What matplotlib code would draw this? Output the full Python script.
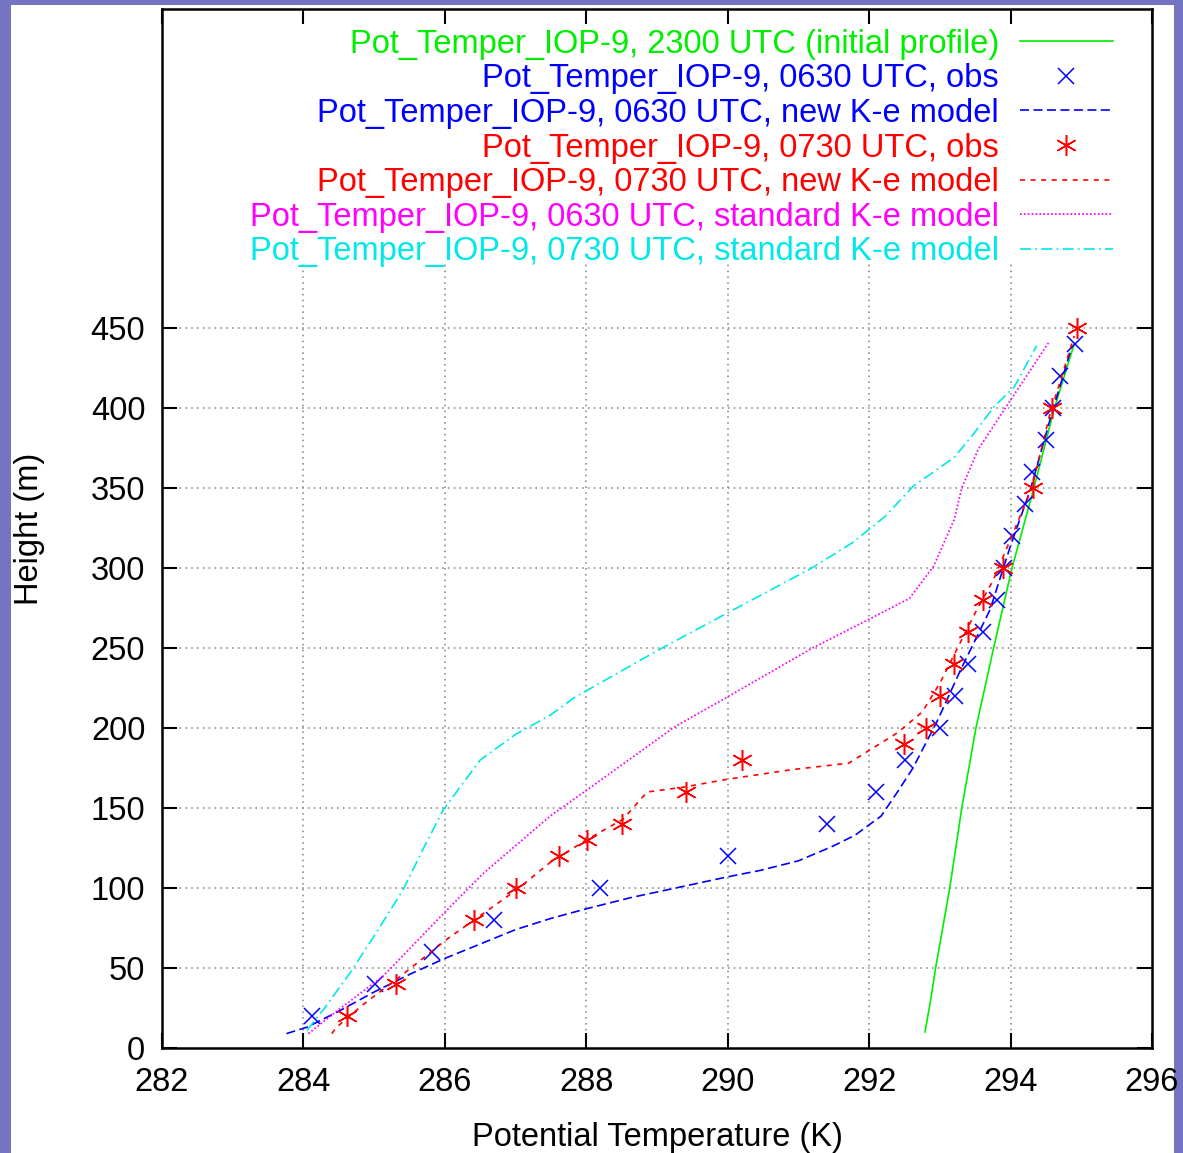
import numpy as np
import matplotlib
matplotlib.use('Agg')
import matplotlib.pyplot as plt
from matplotlib.patches import Rectangle

plt.rcParams['font.family'] = ['Liberation Sans', 'DejaVu Sans']
plt.rcParams['lines.scale_dashes'] = False

# initial profile 2300 UTC
init_T = [292.79, 292.87, 292.94, 293.14, 293.31, 293.51, 293.76, 294.02, 294.33, 294.62, 294.9]
init_z = [10, 30, 50, 100, 150, 200, 250, 300, 350, 400, 440]

# observations 0630 UTC
obs0630_T = [284.12, 285.01, 285.82, 286.70, 288.19, 290.0, 291.40, 292.10, 292.51, 293.0, 293.21,
             293.40, 293.61, 293.81, 293.91, 294.02, 294.2, 294.30, 294.50, 294.60, 294.70, 294.91]
obs0630_z = [20, 40, 60, 80, 100, 120, 140, 160, 180, 200, 220,
             240, 260, 280, 300, 320, 340, 360, 380, 400, 420, 440]

# observations 0730 UTC
obs0730_T = [284.62, 285.31, 286.41, 287.0, 287.61, 288.01, 288.51, 289.41, 290.20, 292.49, 292.80,
             293.0, 293.2, 293.40, 293.61, 293.89, 294.32, 294.59, 294.94]
obs0730_z = [20, 40, 80, 100, 120, 130, 140, 160, 180, 190, 200,
             220, 240, 260, 280, 300, 350, 400, 450]

# new K-e model
new0630_T = [283.76, 284.05, 284.5, 285.0, 285.5, 286.0, 286.5, 287.0, 287.5, 288.0, 288.63, 289.37,
             290.0, 290.46, 291.0, 291.48, 291.8, 292.17, 292.4, 292.62, 292.97, 293.29, 293.71,
             294.0, 294.28, 294.56, 294.87]
new0630_z = [9, 13, 23, 35, 46, 56, 65, 74, 81, 87, 94, 101,
             107, 111, 117, 126, 133, 145, 160, 175, 205, 236, 274,
             314, 349, 393, 439]

new0730_T = [284.40, 284.47, 284.84, 285.32, 286.03, 287.02, 287.49, 288.0, 288.52, 288.86, 289.37,
             290.0, 290.91, 291.71, 292.0, 292.40, 292.75, 293.0, 293.25, 293.5, 293.75, 294.0,
             294.3, 294.55, 294.9]
new0730_z = [9, 13, 27, 43, 68, 99, 116, 130, 143, 160, 163,
             168, 174, 178, 186, 197, 210, 228, 250, 272, 292, 318,
             350, 395, 445]

# standard K-e model
std0630_T = [284.07, 284.47, 285.13, 285.98, 286.54, 287.49, 288.0, 289.26, 289.94, 291.2, 292.0,
             292.57, 292.91, 293.2, 293.31, 293.54, 294.0, 294.54]
std0630_z = [9, 23, 45, 84, 109, 145, 161, 201, 218, 250, 268,
             281, 301, 330, 350, 374, 405, 441]

std0730_T = [284.05, 284.3, 284.66, 285.0, 285.41, 285.7, 285.98, 286.5, 287.0, 287.49, 287.83,
             289.03, 290.0, 291.19, 291.77, 292.22, 292.62, 293.2, 293.48, 293.77, 294.05, 294.37]
std0730_z = [11, 25, 47, 70, 99, 125, 149, 180, 196, 208, 219,
             249, 272, 300, 316, 332, 351, 369, 384, 401, 413, 439]

xticks = [282, 284, 286, 288, 290, 292, 294, 296]
yticks = [0, 50, 100, 150, 200, 250, 300, 350, 400, 450]

fs = 23.5

fig = plt.figure(figsize=(11.83, 11.53), dpi=100, facecolor='#7474c2')
fig.add_artist(Rectangle((11 / 1183, 0), 1163 / 1183, 1148 / 1153,
                         transform=fig.transFigure, facecolor='white',
                         edgecolor='none', zorder=-5))
ax = fig.add_axes([162 / 1183, 1 - 1048 / 1153, 990 / 1183, 1039 / 1153])
ax.set_facecolor('white')

# grid: horizontal lines full width, vertical lines stop below the key
gridkw = dict(color='#888888', lw=1.1, ls=(0, (1.2, 3.0)), zorder=0.5)
for y in yticks[1:]:
    ax.axhline(y, **gridkw)
for x in xticks[1:-1]:
    ax.axvline(x, ymax=0.755, **gridkw)

ax.plot(init_T, init_z, color='#00ee00', lw=1.2,
        label='Pot_Temper_IOP-9, 2300 UTC (initial profile)')
ax.plot(obs0630_T, obs0630_z, color='#0000ff', ls='none', marker='x', ms=12, mew=1.1,
        label='Pot_Temper_IOP-9, 0630 UTC, obs')
ax.plot(new0630_T, new0630_z, color='#0000ff', lw=1.2, ls=(0, (6.5, 3.2)),
        label='Pot_Temper_IOP-9, 0630 UTC, new K-e model')
ax.plot(obs0730_T, obs0730_z, color='#ff0000', ls='none', marker=(6, 2, 0), ms=15, mew=1.1,
        label='Pot_Temper_IOP-9, 0730 UTC, obs')
ax.plot(new0730_T, new0730_z, color='#ff0000', lw=1.2, ls=(0, (3.6, 4.0)),
        label='Pot_Temper_IOP-9, 0730 UTC, new K-e model')
ax.plot(std0630_T, std0630_z, color='#ff00ff', lw=1.3, ls=(0, (1.2, 1.6)),
        label='Pot_Temper_IOP-9, 0630 UTC, standard K-e model')
ax.plot(std0730_T, std0730_z, color='#00e8e8', lw=1.2, ls=(0, (8, 3, 1.3, 3)),
        label='Pot_Temper_IOP-9, 0730 UTC, standard K-e model')

ax.set_xlim(282, 296)
ax.set_ylim(0, 649.4)
ax.set_xticks(xticks)
ax.set_yticks(yticks)
ax.tick_params(direction='in', length=11, width=1.5, labelsize=fs,
               top=True, right=True)
ax.tick_params(axis='x', pad=14)
ax.tick_params(axis='y', pad=12)
for s in ax.spines.values():
    s.set_linewidth(1.8)

ax.set_xlabel('Potential Temperature (K)', fontsize=fs, labelpad=17)
ax.set_ylabel('Height (m)', fontsize=fs, labelpad=33)

ax.legend(loc='upper right', bbox_to_anchor=(0.9606, 0.981), frameon=False,
          markerfirst=False, labelcolor='linecolor', fontsize=fs,
          handlelength=2.85, handletextpad=0.65, labelspacing=0.11,
          borderpad=0, borderaxespad=0, numpoints=1)

fig.savefig('out.png', dpi=100, facecolor=fig.get_facecolor())
